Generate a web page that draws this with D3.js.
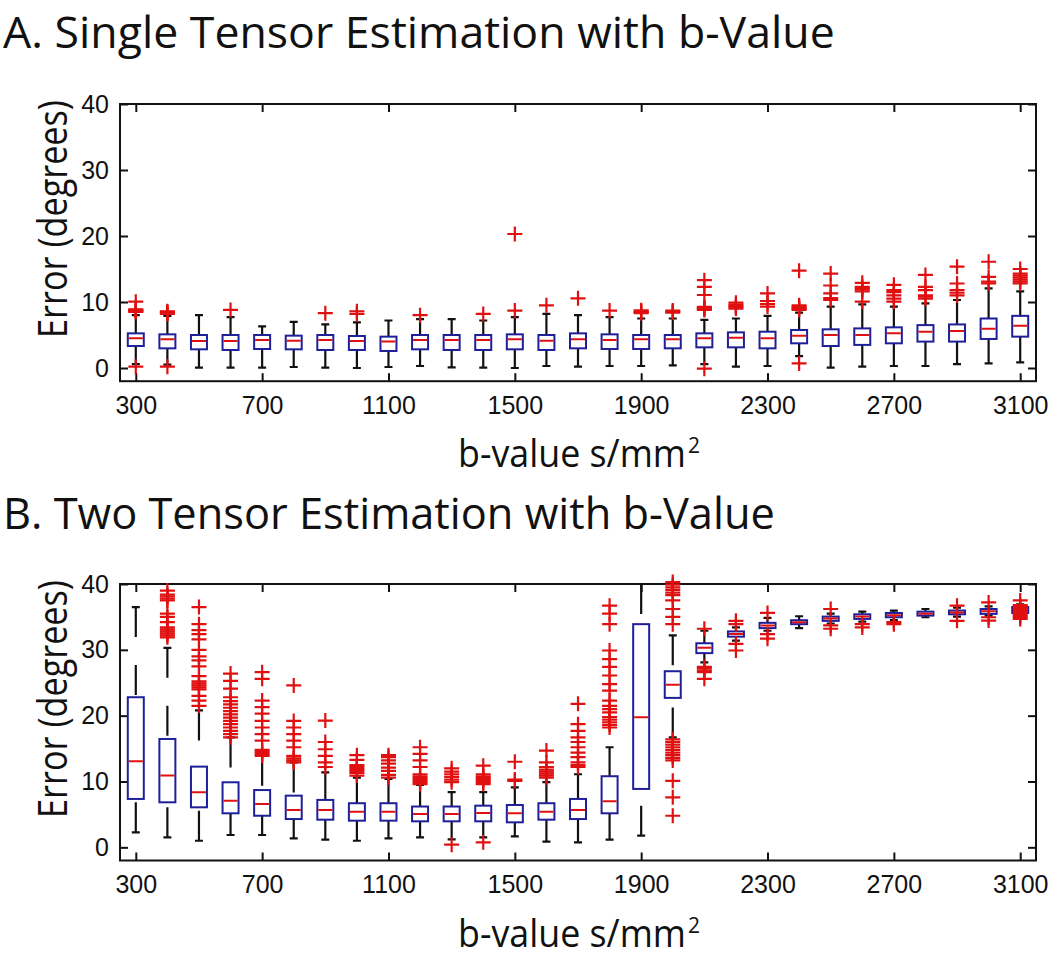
<!DOCTYPE html>
<html>
<head>
<meta charset="utf-8">
<script src="https://cdn.jsdelivr.net/npm/d3@7"></script>
<style>
  body { margin: 0; background: #fff; }
  svg { display: block; }
</style>
</head>
<body>
<svg id="chart" width="1050" height="965"></svg>
<script>
// ---------- data ----------
const bValues = [300,400,500,600,700,800,900,1000,1100,1200,1300,1400,1500,1600,1700,1800,1900,2000,2100,2200,2300,2400,2500,2600,2700,2800,2900,3000,3100];
const xTickValues = [300,700,1100,1500,1900,2300,2700,3100];
const yTickValues = [0,10,20,30,40];

// Panel A: single tensor
const aQ1  = [3.33,2.98,2.83,2.73,2.88,2.83,2.73,2.73,2.58,2.83,2.73,2.73,2.83,2.73,2.98,2.88,2.88,2.98,3.13,3.13,2.98,3.74,3.33,3.5,3.74,4.0,4.0,4.4,4.75];
const aMed = [4.5,4.34,4.1,4.1,4.24,4.14,4.24,4.1,4.0,4.24,4.24,4.24,4.34,4.14,4.34,4.24,4.34,4.34,4.5,4.6,4.5,4.9,5.0,5.0,5.25,5.5,5.6,5.96,6.4];
const aQ3  = [5.25,5.1,5.0,5.0,5.0,4.9,5.0,4.85,4.75,5.0,5.0,5.0,5.1,5.0,5.25,5.1,5.0,5.0,5.25,5.4,5.5,5.76,5.86,6.0,6.16,6.5,6.6,7.5,7.9];
const aLo  = [0.6,0.5,0.05,0.05,0.05,0.15,0.05,0.0,0.15,0.3,0.1,0.05,0.0,0.3,0.2,0.3,0.3,0.4,0.6,0.2,0.3,1.8,0.05,0.2,0.3,0.3,0.6,0.7,0.86];
const aHi  = [8.0,7.9,8.0,7.7,6.3,7.0,6.6,6.9,7.2,7.4,7.4,7.2,7.7,8.2,8.0,7.7,7.5,7.5,7.3,7.5,7.9,8.4,9.3,9.65,9.3,9.8,10.3,12.07,11.6];
const aOut = [
  [0.2,8.5,8.6,8.7,8.8,8.9,10.05],
  [0.2,8.2,8.35,8.5,8.6],
  [],
  [8.8],
  [],
  [],
  [8.3],
  [8.2,8.6],
  [],
  [8.0],
  [],
  [8.2],
  [8.7,20.3],
  [9.5],
  [10.55],
  [8.7],
  [8.3,8.45,8.6,8.75],
  [8.4,8.55,8.7],
  [-0.1,8.8,8.95,9.1,9.25,11.06,12.3,13.3],
  [9.0,9.2,9.4,9.6,9.9],
  [9.3,9.7,10.15,11.3],
  [0.7,8.8,8.95,9.1,9.3,9.5,14.75],
  [10.3,10.6,11.3,12.5,14.3],
  [10.05,11.6,11.9,12.1,12.3,12.9],
  [10.05,10.5,11.0,11.5,11.8,12.6],
  [10.5,10.8,11.0,11.8,12.3,14.1],
  [11.0,11.4,11.8,12.8,15.35],
  [12.8,13.1,13.8,16.1],
  [12.8,13.1,13.4,13.7,14.0,14.3,15.0]
];

// Panel B: two tensor
const bQ1  = [7.35,6.84,6.08,5.17,4.8,4.3,4.2,4.05,4.05,3.95,3.95,3.95,3.8,4.2,4.3,5.17,8.87,22.7,29.5,32.0,33.3,33.9,34.4,34.7,34.95,35.2,35.4,35.46,35.6];
const bMed = [13.07,10.9,8.36,7.09,6.6,5.67,5.67,5.42,5.42,5.07,5.07,5.2,5.17,5.42,5.67,7.0,19.76,24.7,30.3,32.4,33.7,34.2,34.75,35.05,35.26,35.5,35.66,35.87,36.07];
const bQ3  = [22.8,16.46,12.26,9.88,8.7,7.85,7.2,6.7,6.7,6.2,6.2,6.33,6.43,6.7,7.35,10.8,33.9,26.75,31.0,32.8,34.1,34.5,35.05,35.4,35.6,35.8,35.97,36.2,36.5];
const bLo  = [2.28,1.52,1.0,1.87,1.87,1.37,1.17,1.0,1.37,1.5,1.2,1.5,1.67,0.86,0.76,1.17,1.77,16.7,28.1,31.4,32.9,33.3,34.0,34.3,34.5,34.95,35.05,35.2,35.2];
const bHi  = [36.5,30.3,20.8,16.7,13.9,12.9,11.4,10.6,10.4,9.5,8.4,8.4,9.1,9.9,11.1,15.2,40,32.2,32.9,33.4,34.85,35.1,35.5,35.8,35.97,36.2,36.4,36.6,36.9];
const bOut = [
  [],
  [31.9,32.2,32.5,32.8,33.1,33.4,34.2,35.0,35.5,37.5,37.8,38.1,38.4,39.0],
  [21.5,22.3,23.0,24.0,24.3,24.6,24.9,25.2,26.0,27.5,28.4,29.0,30.0,31.6,32.4,33.0,33.9,36.5],
  [16.7,17.2,17.7,18.2,18.7,19.2,19.7,20.2,20.7,21.2,21.7,22.2,22.8,24.1,25.3,26.4],
  [13.9,14.2,14.5,14.8,16.2,17.2,18.2,19.2,20.3,21.3,22.3,25.6,26.6],
  [12.9,13.2,13.5,13.9,15.2,16.2,17.2,18.2,19.2,24.6],
  [12.2,12.9,13.9,14.9,16.0,19.25],
  [10.9,11.3,11.6,11.9,12.2,12.5,13.3,14.0],
  [10.6,11.0,11.6,12.1,12.7,13.2,13.7,14.0],
  [9.6,9.9,10.2,10.5,10.8,11.1,12.2,13.2,14.2,15.2],
  [0.4,9.9,10.3,10.7,11.1,11.5,12.0],
  [0.76,9.6,9.9,10.2,10.5,10.8,11.1,12.4],
  [10.1,10.3,13.0],
  [10.6,10.9,11.2,11.5,11.8,12.2,12.9,14.7],
  [12.2,12.5,12.9,13.7,14.4,15.2,16.0,16.7,17.7,18.7,21.8],
  [18.2,18.6,19.0,19.4,19.8,20.5,21.0,21.5,22.3,23.8,24.8,26.1,27.4,28.6,29.9,33.9,35.5,36.7],
  [],
  [4.8,7.6,10.1,13.2,13.6,14.0,14.4,14.8,15.2,15.6,16.0,16.4,33.9,35.0,36.2,37.5,38.3,38.7,39.1,39.5,39.9,40.3],
  [25.6,26.6,26.9,27.2,27.4,33.2],
  [29.9,30.9,33.9,34.4],
  [31.7,32.4,35.6],
  [],
  [33.2,33.7,36.2],
  [33.4,33.9],
  [33.9,34.2],
  [],
  [34.4,36.7],
  [34.45,34.95,37.2],
  [34.7,35.0,35.3,35.6,35.9,36.2,36.5,36.8,37.5]
];

const titles = ["A. Single Tensor Estimation with b-Value", "B. Two Tensor Estimation with b-Value"];
const yLabel = "Error (degrees)";
const xLabelMain = "b-value s/mm";
const xLabelSup = "2";

// ---------- drawing ----------
const svg = d3.select("#chart");
const BLUE = "#1f1f99", RED = "#e01010", BLACK = "#111";
const labelFont = "'Open Sans', 'Noto Sans', sans-serif";

// draws a text and squeezes it horizontally (via a scale transform) to the wanted width
function fittedText(parent, str, size, targetW, tx, ty, rotate, anchor) {
  const g = parent.append("g");
  const t = g.append("text")
    .attr("font-family", labelFont).attr("font-size", size)
    .attr("fill", BLACK).attr("text-anchor", anchor || "start")
    .text(str);
  const w = t.node().getComputedTextLength();
  const sx = w > 0 ? targetW / w : 1;
  g.attr("transform", `translate(${tx},${ty})${rotate ? " rotate(" + rotate + ")" : ""} scale(${sx},1)`);
  return g;
}

const panels = [
  {top: 104, bottom: 381.2, q1: aQ1, med: aMed, q3: aQ3, lo: aLo, hi: aHi, out: aOut, title: titles[0], titleY: 48, titleW: 832, ylabY: 219},
  {top: 584, bottom: 860.5, q1: bQ1, med: bMed, q3: bQ3, lo: bLo, hi: bHi, out: bOut, title: titles[1], titleY: 529, titleW: 772, ylabY: 699}
];
const left = 120, right = 1036;
const x = d3.scaleLinear().domain([250, 3150]).range([left, right]);

panels.forEach((p, pi) => {
  const y = d3.scaleLinear().domain([-2, 40]).range([p.bottom, p.top]);
  const g = svg.append("g");

  // title
  fittedText(g, p.title, 44, p.titleW, 3, p.titleY, 0, "start");

  // axes
  const fontTick = "'Liberation Sans', Arial, sans-serif";
  const axB = g.append("g").attr("transform", `translate(0,${p.bottom})`)
    .call(d3.axisBottom(x).tickValues(xTickValues).tickSize(-8).tickPadding(15).tickFormat(d3.format("d")));
  const axT = g.append("g").attr("transform", `translate(0,${p.top})`)
    .call(d3.axisTop(x).tickValues(xTickValues).tickSize(-8).tickFormat(""));
  const axL = g.append("g").attr("transform", `translate(${left},0)`)
    .call(d3.axisLeft(y).tickValues(yTickValues).tickSize(-8).tickPadding(11).tickFormat(d3.format("d")));
  const axR = g.append("g").attr("transform", `translate(${right},0)`)
    .call(d3.axisRight(y).tickValues(yTickValues).tickSize(-8).tickFormat(""));
  [axB, axT, axL, axR].forEach(a => {
    a.select(".domain").remove();
    a.selectAll(".tick line").attr("stroke", BLACK).attr("stroke-width", 2);
    a.selectAll(".tick text").attr("font-family", fontTick).attr("font-size", 25).attr("fill", BLACK);
  });

  // frame
  g.append("rect")
    .attr("x", left).attr("y", p.top)
    .attr("width", right - left).attr("height", p.bottom - p.top)
    .attr("fill", "none").attr("stroke", BLACK).attr("stroke-width", 2);

  // y label
  fittedText(g, yLabel, 40, 238, 67, p.ylabY, -90, "middle");

  // x label (main text + separate superscript)
  fittedText(g, xLabelMain, 38, 228, 458, p.bottom + 86, 0, "start");
  g.append("text")
    .attr("x", 688).attr("y", p.bottom + 72)
    .attr("font-family", labelFont)
    .attr("font-size", 21)
    .attr("fill", BLACK)
    .text(xLabelSup);

  // clip for whiskers
  const clipId = "clip" + pi;
  g.append("clipPath").attr("id", clipId).append("rect")
    .attr("x", left).attr("y", p.top).attr("width", right - left).attr("height", p.bottom - p.top);

  const boxW = 16, capW = 8;
  const data = bValues.map((b, i) => ({b, q1: p.q1[i], med: p.med[i], q3: p.q3[i], lo: p.lo[i], hi: p.hi[i], out: p.out[i]}));
  const boxes = g.append("g").attr("clip-path", `url(#${clipId})`)
    .selectAll("g.box").data(data).join("g").attr("class", "box");

  // whiskers (dashed, drawn from the whisker end towards the box)
  boxes.append("path")
    .attr("d", d => `M${x(d.b)},${y(d.hi)}V${y(d.q3)}`)
    .attr("stroke", BLACK).attr("stroke-width", 2.2).attr("fill", "none")
    .attr("stroke-dasharray", "30 28");
  boxes.append("path")
    .attr("d", d => `M${x(d.b)},${y(d.lo)}V${y(d.q1)}`)
    .attr("stroke", BLACK).attr("stroke-width", 2.2).attr("fill", "none")
    .attr("stroke-dasharray", "30 28");
  // caps
  boxes.append("path")
    .attr("d", d => `M${x(d.b) - capW/2},${y(d.hi)}h${capW}M${x(d.b) - capW/2},${y(d.lo)}h${capW}`)
    .attr("stroke", BLACK).attr("stroke-width", 2.2);
  // box
  boxes.append("rect")
    .attr("x", d => x(d.b) - boxW/2)
    .attr("y", d => y(d.q3))
    .attr("width", boxW)
    .attr("height", d => y(d.q1) - y(d.q3))
    .attr("fill", "none").attr("stroke", BLUE).attr("stroke-width", 2);
  // median
  boxes.append("line")
    .attr("x1", d => x(d.b) - boxW/2 + 1).attr("x2", d => x(d.b) + boxW/2 - 1)
    .attr("y1", d => y(d.med)).attr("y2", d => y(d.med))
    .attr("stroke", RED).attr("stroke-width", 2);

  // outliers (not clipped)
  const outs = [];
  data.forEach(d => d.out.forEach(v => outs.push({b: d.b, v})));
  g.append("g").selectAll("path.out").data(outs).join("path")
    .attr("class", "out")
    .attr("transform", d => `translate(${x(d.b)},${y(d.v)})`)
    .attr("d", "M-7.5,0H7.5M0,-7.5V7.5")
    .attr("stroke", RED).attr("stroke-width", 2.2).attr("fill", "none");
});
</script>
</body>
</html>
